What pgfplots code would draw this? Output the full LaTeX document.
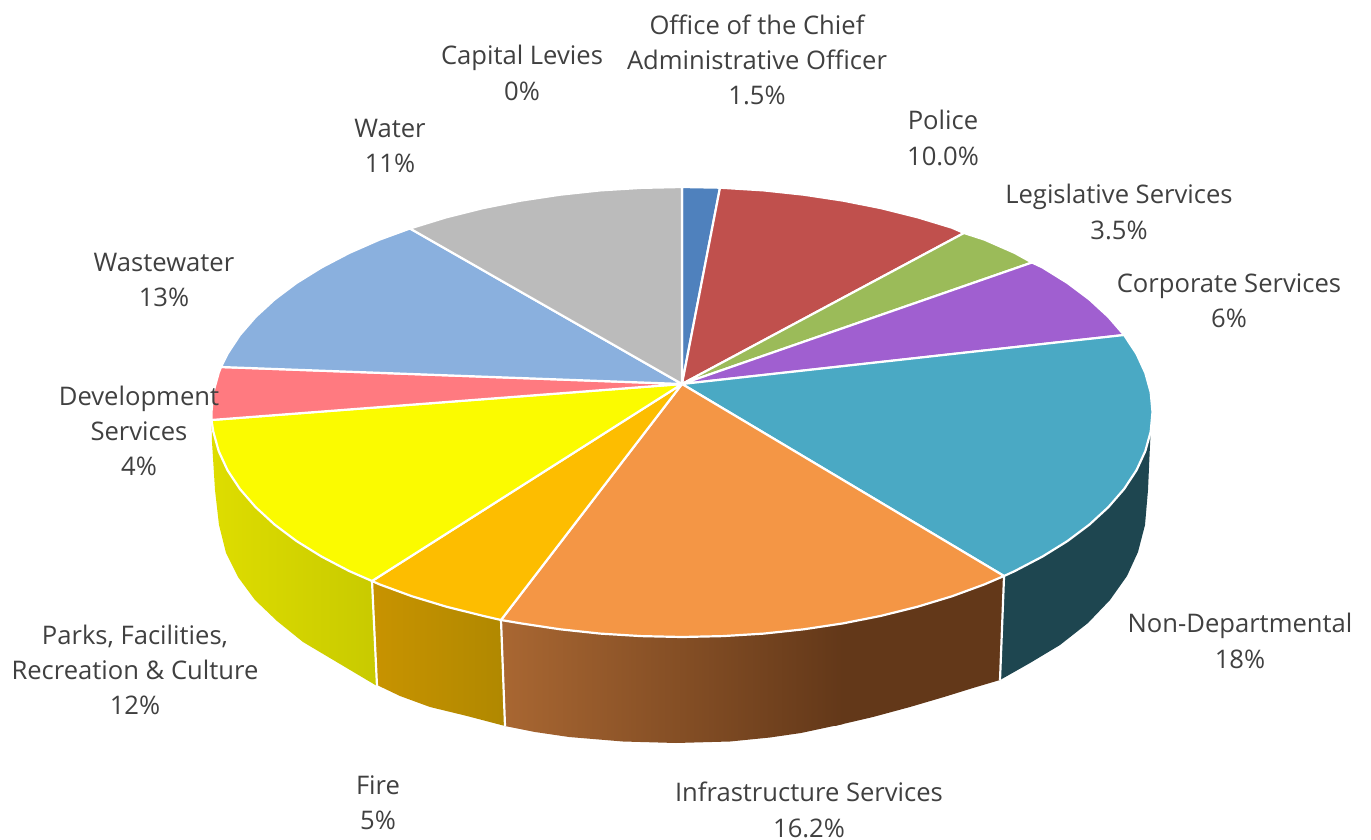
\documentclass[border=0pt]{standalone}
\usepackage{pgfplots}
\pgfplotsset{compat=1.18}
\usepackage{fontspec}
\setmainfont{Open Sans}
\definecolor{cOffice}{HTML}{4F81BD}
\definecolor{cPolice}{HTML}{C0504D}
\definecolor{cLegis}{HTML}{9BBB59}
\definecolor{cCorp}{HTML}{A05FD0}
\definecolor{cNon}{HTML}{4AA9C4}
\definecolor{cNonS}{HTML}{1E4650}
\definecolor{cInfra}{HTML}{F49645}
\definecolor{cInfraA}{HTML}{A96732}
\definecolor{cInfraB}{HTML}{633819}
\definecolor{cFire}{HTML}{FDBD00}
\definecolor{cFireA}{HTML}{C89300}
\definecolor{cFireB}{HTML}{B08800}
\definecolor{cParks}{HTML}{FBFB00}
\definecolor{cParksA}{HTML}{DEDD00}
\definecolor{cParksB}{HTML}{C8CA00}
\definecolor{cDev}{HTML}{FF7A80}
\definecolor{cWaste}{HTML}{8AB0DE}
\definecolor{cWater}{HTML}{BBBBBB}
\definecolor{cText}{HTML}{404040}
\begin{document}
\begin{tikzpicture}
\path[use as bounding box] (0,0) rectangle (1371pt,840pt);
\begin{axis}[
  scale only axis, width=1371pt, height=840pt,
  xmin=0, xmax=1371, ymin=0, ymax=840, y dir=reverse,
  hide axis, clip=false,
  every axis plot/.append style={no markers, line join=round},
]
% ---- sides
\addplot[fill=cNonS, draw=none] coordinates {(1150.7,431.6)(1145.3,451.1)(1136.5,470.2)(1124.1,489.0)(1108.4,507.1)(1089.5,524.5)(1067.4,541.1)(1042.4,556.6)(1014.7,571.1)(1004,576)(1000,680)(1030,663)(1060,645)(1088,623)(1110,600)(1127,576)(1138,552)(1145,525)(1148,490)(1150,445)(1150.7,431.6)};
\addplot[fill=cInfraB, draw=none] coordinates {(835,624.5)(842.9,623.4)(880.8,615.9)(917.3,606.8)(951.9,596.3)(984.4,584.4)(1004,576)(1000,680)(973,688)(944,697)(910,707)(873,717)(843,724)(835,726)(835,624.5)};
\addplot[left color=cInfraA, right color=cInfraB, draw=none] coordinates {(501,620)(521.1,623.4)(560.2,629.3)(600.3,633.6)(641,636.1)(682,637)(723,636.1)(763.7,633.6)(803.8,629.3)(842.9,623.4)(843,724)(801,733)(770,737.5)(730,741.5)(676,743)(623,741.5)(569,737)(535,732)(505,726)(501,620)};
\addplot[left color=cFireA, right color=cFireB, draw=none] coordinates {(372,581)(379.6,584.4)(412.1,596.3)(446.7,606.8)(483.2,615.9)(501,620)(505,726)(467,716)(430,707)(400,696)(377,685)(372,581)};
\addplot[left color=cParksA, right color=cParksB, draw=none] coordinates {(211.5,420)(213.3,431.6)(218.7,451.1)(227.5,470.2)(239.9,489)(255.6,507.1)(274.5,524.5)(296.6,541.1)(321.6,556.6)(349.3,571.1)(372,581)(377,686)(340,664)(303,642)(277,621)(255,600)(238,577)(226,553)(219,525)(215,490)(212,442)(211.5,420)};
% ---- side dividers
\addplot[white, line width=2.2pt] coordinates {(372,581)(377,686)};
\addplot[white, line width=2.2pt] coordinates {(501,620)(505,726)};
\addplot[white, line width=2.2pt] coordinates {(1004,577)(1000,680)};
% ---- top sectors
\addplot[fill=cOffice, draw=white, line width=2.2pt] coordinates {(682,384)(682,187)(720,187.7)(682,384)};
\addplot[fill=cPolice, draw=white, line width=2.2pt] coordinates {(682,384)(720,187.7)(763.7,190.4)(803.8,194.7)(842.9,200.6)(880.8,208.1)(917.3,217.2)(951.9,227.7)(964,233)(682,384)};
\addplot[fill=cLegis, draw=white, line width=2.2pt] coordinates {(682,384)(964,233)(984.4,239.6)(1014.7,252.9)(1032,262.5)(682,384)};
\addplot[fill=cCorp, draw=white, line width=2.2pt] coordinates {(682,384)(1032,262.5)(1042.4,267.4)(1067.4,282.9)(1089.5,299.5)(1108.4,316.9)(1124.1,335)(682,384)};
\addplot[fill=cNon, draw=white, line width=2.2pt] coordinates {(682,384)(1124.1,335)(1136.5,353.8)(1145.3,372.9)(1150.7,392.4)(1152.5,412)(1150.7,431.6)(1145.3,451.1)(1136.5,470.2)(1124.1,489)(1108.4,507.1)(1089.5,524.5)(1067.4,541.1)(1042.4,556.6)(1014.7,571.1)(1004,576)(682,384)};
\addplot[fill=cInfra, draw=white, line width=2.2pt] coordinates {(682,384)(1004,576)(984.4,584.4)(951.9,596.3)(917.3,606.8)(880.8,615.9)(842.9,623.4)(803.8,629.3)(763.7,633.6)(723,636.1)(682,637)(641,636.1)(600.3,633.6)(560.2,629.3)(521.1,623.4)(501,620)(682,384)};
\addplot[fill=cFire, draw=white, line width=2.2pt] coordinates {(682,384)(501,620)(483.2,615.9)(446.7,606.8)(412.1,596.3)(379.6,584.4)(372,581)(682,384)};
\addplot[fill=cParks, draw=white, line width=2.2pt] coordinates {(682,384)(372,581)(349.3,571.1)(321.6,556.6)(296.6,541.1)(274.5,524.5)(255.6,507.1)(239.9,489)(227.5,470.2)(218.7,451.1)(213.3,431.6)(211.5,420)(682,384)};
\addplot[fill=cDev, draw=white, line width=2.2pt] coordinates {(682,384)(211.5,420)(211.5,412)(213.3,392.4)(218.7,372.9)(221,367)(682,384)};
\addplot[fill=cWaste, draw=white, line width=2.2pt] coordinates {(682,384)(221,367)(227.5,353.8)(239.9,335)(255.6,316.9)(274.5,299.5)(296.6,282.9)(321.6,267.4)(349.3,252.9)(379.6,239.6)(410,228.5)(682,384)};
\addplot[fill=cWater, draw=white, line width=2.2pt] coordinates {(682,384)(410,228.5)(446.7,217.2)(483.2,208.1)(521.1,200.6)(560.2,194.7)(600.3,190.4)(641,187.9)(682,187)(682,384)};
% ---- labels
\path[every node/.style={text=cText, align=center, font=\fontsize{25.6}{35.3}\selectfont}]
  (axis cs:757,60) node {Office of the Chief\\Administrative Officer\\1.5\%}
  (axis cs:522,73) node {Capital Levies\\0\%}
  (axis cs:943,138) node {Police\\10.0\%}
  (axis cs:390,146) node {Water\\11\%}
  (axis cs:1119,212) node {Legislative Services\\3.5\%}
  (axis cs:1229,301) node {Corporate Services\\6\%}
  (axis cs:164,280) node {Wastewater\\13\%}
  (axis cs:139,431) node {Development\\Services\\4\%}
  (axis cs:1240,641) node {Non-Departmental\\18\%}
  (axis cs:135,670) node {Parks, Facilities,\\Recreation \& Culture\\12\%}
  (axis cs:378,803) node {Fire\\5\%}
  (axis cs:809,810) node {Infrastructure Services\\16.2\%};
\end{axis}
\end{tikzpicture}
\end{document}
